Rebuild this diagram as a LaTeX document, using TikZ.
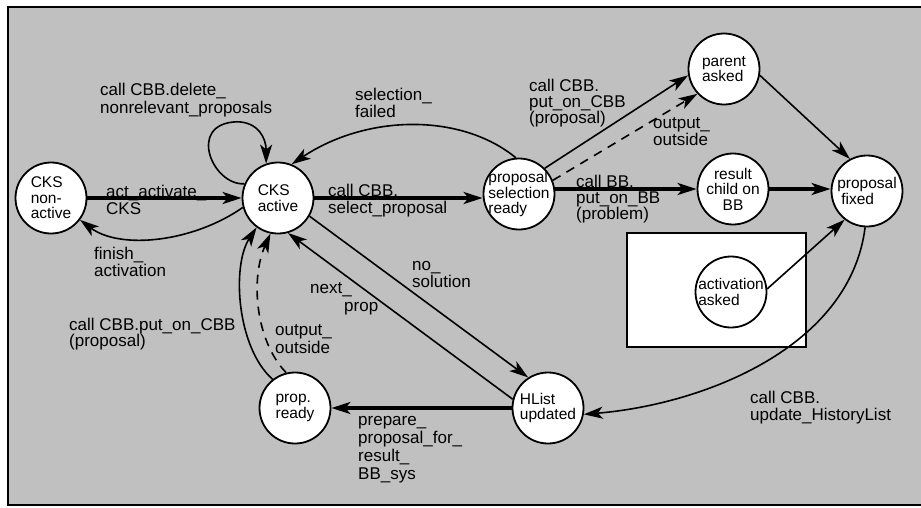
\documentclass[tikz,border=0pt]{standalone}
\usepackage{fontspec}
\setmainfont{Liberation Sans}
\usetikzlibrary{arrows.meta}
\definecolor{panel}{HTML}{C0C0C0}

\begin{document}
\begin{tikzpicture}[x=1pt, y=-1pt,
  state/.style={circle, draw, line width=1.8pt, fill=white, minimum size=71pt,
    inner sep=-12pt, font=\fontsize{15.5}{15.5}\selectfont, align=left},
  % labels are placed by the baseline of their last line
  lbl/.style={anchor=base west, inner sep=0pt, font=\fontsize{17}{17}\selectfont, align=left},
  tip/.style={-{Stealth[length=19pt, width=12pt, inset=5pt]}},
  heavy/.style={line width=3.2pt, tip},
  trans/.style={line width=1.6pt, tip},
  dashtrans/.style={trans, dash pattern=on 9pt off 7pt}]

  % page and grey panel
  \useasboundingbox (0,0) rectangle (921,507);
  \clip (0,0) rectangle (921,507);
  \fill[white] (0,0) rectangle (921,507);
  \draw[fill=panel, line width=2pt] (8,6.5) rectangle (940,505);

  % boxed sub-area
  \node[draw, line width=1.8pt, fill=white, minimum width=179pt, minimum height=114pt,
        inner sep=0pt] (area) at (716.5,290) {};

  % states
  \node[state] (nonact) at (51,198)  {CKS\\non-\\active};
  \node[state] (act)    at (278,198) {CKS\\active};
  \node[state] (psr)    at (519,194) {proposal\\selection\\ready};
  \node[state] (pa)     at (724,69)  {parent\\asked};
  \node[state, align=center] (rc) at (733,189) {result\\child on\\BB};
  \node[state] (pf)     at (867,191) {proposal\\\hspace*{4pt}fixed};
  \node[state] (aa)     at (731,292) {activation\\asked};
  \node[state] (hl)     at (548,408) {HList\\updated};
  \node[state] (pr)     at (295,408) {prop.\\ready};

  % transitions
  \draw[heavy] (nonact.east) -- (act.west);
  \draw[trans] (act.195) .. controls +(-50,35) and +(40,30) .. (nonact.-37);
  \draw[trans] (act.157) .. controls +(-32,2) and +(-50,2) .. ++(-8,-62)
                         .. controls +(22,0) and +(0,-25) .. (act.109);
  \draw[trans] (psr.95) .. controls +(-55,-45) and +(75,-50) .. (act.68);
  \draw[heavy] (act.east) -- (act.east -| psr.west);
  \draw[trans] (psr.45) -- (pa.190);
  \draw[dashtrans] (psr.22) -- (pa.223);
  \draw[heavy] (rc.west -| psr.east) -- (rc.west);
  \draw[trans] (pa.-10) -- (pf.118);
  \draw[heavy] (rc.east) -- (rc.east -| pf.west);
  \draw[trans] (aa.5) -- (pf.232);
  \draw[trans] (pf.-93) .. controls +(-15,120) and +(120,-10) .. (hl.-10);
  \draw[trans] (act.-30) -- (hl.123);
  \draw[trans] (hl.166) -- (act.-74);
  \draw[heavy] (hl.west) -- (pr.east);
  \draw[trans] (pr.128) .. controls +(-36,-32) and +(-25,38) .. (act.234);
  \draw[dashtrans] (pr.104) .. controls +(-31,-32) and +(-20,45) .. (act.258);

  % transition labels
  \node[lbl, font=\fontsize{17}{18}\selectfont] (l1) at (100,113) {call CBB.delete\_\\nonrelevant\_proposals};
  \node[lbl] (l2)  at (355,117) {selection\_\\failed};
  \node[lbl] (l3)  at (106,214) {act\_activate\_\\CKS};
  \node[lbl] (l4)  at (328,213) {call CBB.\\select\_proposal};
  \node[lbl] (l5)  at (94,276)  {finish\_\\activation};
  \node[lbl, font=\fontsize{17}{16}\selectfont] (l6) at (529,123) {call CBB.\\put\_on\_CBB\\(proposal)};
  \node[lbl] (l7)  at (653,145) {output\_\\outside};
  \node[lbl, font=\fontsize{17}{16}\selectfont] (l8) at (576,219) {call BB.\\put\_on\_BB\\(problem)};
  \node[lbl] (l9)  at (412,287) {no\_\\solution};
  \node[lbl, font=\fontsize{17}{18}\selectfont] (l10) at (310,311) {next\_\\\hspace*{34pt}prop};
  \node[lbl, font=\fontsize{17}{16}\selectfont] (l11) at (69,346) {call CBB.put\_on\_CBB\\(proposal)};
  \node[lbl, font=\fontsize{17}{18}\selectfont] (l12) at (275,353) {output\_\\outside};
  \node[lbl, font=\fontsize{17}{18}\selectfont] (l13) at (358,479) {prepare\_\\proposal\_for\_\\result\_\\BB\_sys};
  \node[lbl] (l14) at (750,420) {call CBB.\\update\_HistoryList};
\end{tikzpicture}
\end{document}
